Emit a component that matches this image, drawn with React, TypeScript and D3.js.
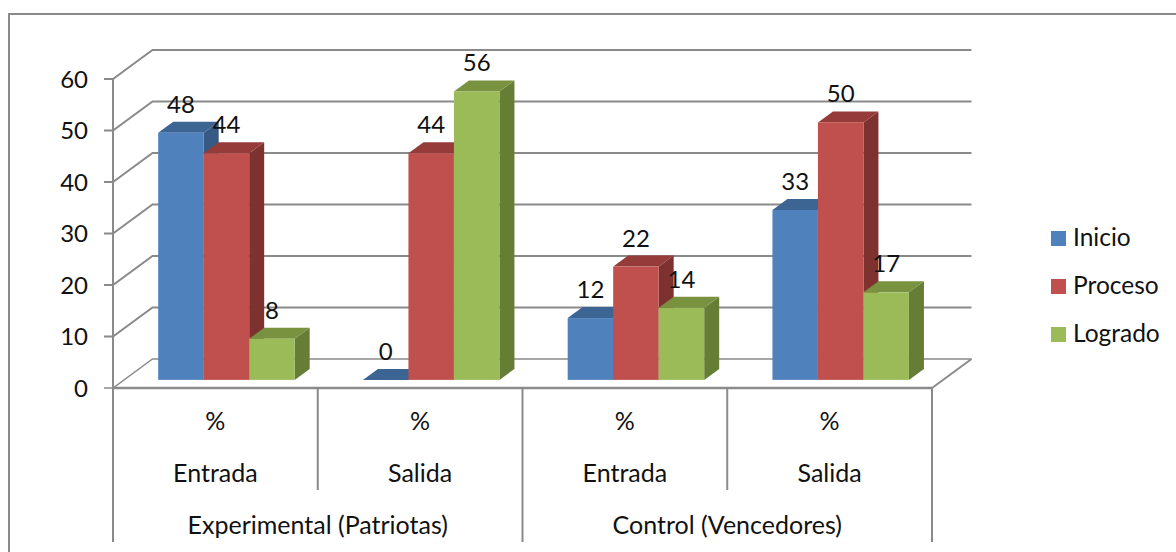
import React from "react";
import * as d3 from "d3";

const seriesNames = ["Inicio", "Proceso", "Logrado"];
const inicio = [48, 0, 12, 33];
const proceso = [44, 44, 22, 50];
const logrado = [8, 56, 14, 17];
const phases = ["Entrada", "Salida", "Entrada", "Salida"];
const groups = ["Experimental (Patriotas)", "Control (Vencedores)"];
const yTicks = [0, 10, 20, 30, 40, 50, 60];

const frontColors = ["#4f81bd", "#c0504d", "#9bbb59"];
const topColors = ["#3d6594", "#953c3a", "#78923f"];
const sideColors = ["#375a85", "#7e3230", "#667d36"];
const gray = "#8a8a8a";
const font = "Lato, Carlito, sans-serif";
const textColor = "#111";

// Oblique projection: the front of the frame, the back wall, and the bar plane between them.
const frameLeft = 113;
const frameRight = 932;
const frameBottom = 388;
const frameTop = 79;
const depthX = 39.5;
const depthY = -29;
const barPlane = 0.28;
const barDepthX = 15;
const barDepthY = -11;

const x = d3.scaleBand<number>().domain([0, 1, 2, 3]).range([frameLeft, frameRight]);
const y = d3.scaleLinear().domain([0, 60]).range([frameBottom, frameTop]);
const inner = d3.scaleBand<number>().domain([0, 1, 2]).range([0, 136.5]);

const poly = (pts: number[][]) => pts.map((p) => p.join(",")).join(" ");

export default function App() {
  const series = [inicio, proceso, logrado];
  const groupEdges = [frameLeft, x(2)!, frameRight];
  const cellEdges = [x(1)!, x(3)!];
  const planeDX = depthX * barPlane;
  const planeDY = depthY * barPlane;
  const bars = [0, 1, 2, 3].flatMap((cat) =>
    series.map((vals, s) => {
      const left = x(cat)! + planeDX + (x.bandwidth() - 136.5) / 2 + inner(s)!;
      const w = inner.bandwidth();
      return { key: `${cat}-${s}`, s, v: vals[cat], left, w, top: y(vals[cat]) + planeDY, base: frameBottom + planeDY };
    })
  );
  return (
    <svg width={1176} height={552} style={{ position: "absolute", left: 0, top: 0, background: "#fff" }} fontFamily={font}>
      <path d="M9,552 V14 H1176" fill="none" stroke={gray} strokeWidth={2} />

      {yTicks.map((t) => (
        <g key={t}>
          <polyline
            points={poly([[104, y(t)], [frameLeft, y(t)], [frameLeft + depthX, y(t) + depthY], [frameRight + depthX, y(t) + depthY]])}
            fill="none"
            stroke={gray}
            strokeWidth={t === 0 ? 1.5 : 2}
          />
          <text x={88} y={y(t) + 8.5} textAnchor="end" fontSize={24} fill={textColor}>{t}</text>
        </g>
      ))}
      <line x1={frameLeft} x2={frameLeft} y1={frameTop} y2={frameBottom} stroke={gray} strokeWidth={2} />
      <line x1={frameLeft} x2={frameRight} y1={frameBottom} y2={frameBottom} stroke={gray} strokeWidth={2.5} />
      <line x1={frameRight} x2={frameRight + depthX} y1={frameBottom} y2={frameBottom + depthY} stroke={gray} strokeWidth={2} />

      {groupEdges.map((e) => (
        <line key={e} x1={e} x2={e} y1={frameBottom} y2={542} stroke={gray} strokeWidth={2} />
      ))}
      {cellEdges.map((e) => (
        <line key={e} x1={e} x2={e} y1={frameBottom} y2={490} stroke={gray} strokeWidth={2} />
      ))}

      {bars.map((b) => (
        <g key={b.key}>
          <polygon
            points={poly([[b.left + b.w, b.top], [b.left + b.w + barDepthX, b.top + barDepthY], [b.left + b.w + barDepthX, b.base + barDepthY], [b.left + b.w, b.base]])}
            fill={b.v === 0 ? topColors[b.s] : sideColors[b.s]}
          />
          <polygon
            points={poly([[b.left, b.top], [b.left + barDepthX, b.top + barDepthY], [b.left + b.w + barDepthX, b.top + barDepthY], [b.left + b.w, b.top]])}
            fill={topColors[b.s]}
          />
          {b.v > 0 && <rect x={b.left} y={b.top} width={b.w} height={b.base - b.top} fill={frontColors[b.s]} />}
        </g>
      ))}

      {bars.map((b) => (
        <text key={b.key} x={b.left + b.w / 2} y={b.top - 20} textAnchor="middle" fontSize={24} fill={textColor}>{b.v}</text>
      ))}

      {phases.map((p, i) => {
        const cx = x(i)! + x.bandwidth() / 2;
        return (
          <g key={i} fontSize={25} fill={textColor} textAnchor="middle">
            <text x={cx} y={430}>%</text>
            <text x={cx} y={482}>{p}</text>
          </g>
        );
      })}
      {groups.map((g, i) => (
        <text key={g} x={(groupEdges[i] + groupEdges[i + 1]) / 2} y={534} fontSize={25} fill={textColor} textAnchor="middle">{g}</text>
      ))}

      {seriesNames.map((n, i) => (
        <g key={n}>
          <rect x={1051} y={231 + 48 * i} width={15} height={15} fill={frontColors[i]} />
          <text x={1073} y={246 + 48 * i} fontSize={24.5} fill={textColor}>{n}</text>
        </g>
      ))}
    </svg>
  );
}
